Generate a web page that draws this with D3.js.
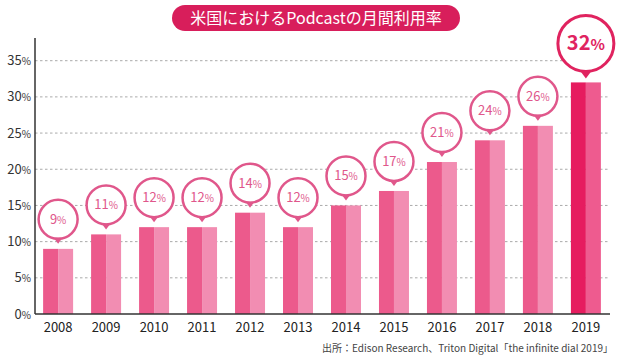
<!DOCTYPE html>
<html><head><meta charset="utf-8">
<script src="https://cdn.jsdelivr.net/npm/d3@7"></script>
<style>body{margin:0;background:#fff;}svg{display:block;}</style>
</head><body>
<svg id="c" width="620" height="359"></svg>
<script>
const years = ["2008","2009","2010","2011","2012","2013","2014","2015","2016","2017","2018","2019"];
const values = [9,11,12,12,14,12,15,17,21,24,26,32];
const yTicks = [0,5,10,15,20,25,30,35];
const titleText = "米国におけるPodcastの月間利用率";
const sourceText = "出所：Edison Research、Triton Digital「the infinite dial 2019」";

const svg = d3.select("#c");
const font = "'Noto Sans CJK JP','Noto Sans',sans-serif";
const x0 = 35, x1 = 610;
const y = d3.scaleLinear().domain([0,35]).range([314,60.7]);
const x = d3.scaleBand().domain(years).range([34,610]).paddingInner(0.375).paddingOuter(0.19);

// grid
svg.append("g").selectAll("line").data(yTicks.filter(d=>d>0)).join("line")
  .attr("x1",x0).attr("x2",x1).attr("y1",d=>y(d)).attr("y2",d=>y(d))
  .attr("stroke","#aaa").attr("stroke-width",1).attr("stroke-dasharray","2.5,2.5");

// bars
const bw = x.bandwidth();
const bars = svg.append("g").selectAll("g").data(years).join("g");
bars.append("rect").attr("x",d=>x(d)).attr("width",bw/2)
  .attr("y",(d,i)=>y(values[i])).attr("height",(d,i)=>y(0)-y(values[i]))
  .attr("fill",(d,i)=>i===years.length-1?"#e61c5f":"#ec5a8c");
bars.append("rect").attr("x",d=>x(d)+bw/2).attr("width",bw/2)
  .attr("y",(d,i)=>y(values[i])).attr("height",(d,i)=>y(0)-y(values[i]))
  .attr("fill",(d,i)=>i===years.length-1?"#ee5b8f":"#f28db2");

// axes
svg.append("line").attr("x1",x0).attr("x2",x0).attr("y1",38).attr("y2",y(0)).attr("stroke","#333").attr("stroke-width",1.5);
svg.append("line").attr("x1",x0).attr("x2",x1).attr("y1",y(0)).attr("y2",y(0)).attr("stroke","#333").attr("stroke-width",1.5);

// y tick labels
const yl = svg.append("g").selectAll("text").data(yTicks).join("text")
  .attr("x",31).attr("y",d=>y(d)+4.5).attr("text-anchor","end")
  .attr("font-family",font).attr("font-size",13).attr("fill","#333");
yl.append("tspan").text(d=>d);
yl.append("tspan").attr("font-size",10).text("%");

// x labels
svg.append("g").selectAll("text").data(years).join("text")
  .attr("x",d=>x(d)+bw/2).attr("y",332).attr("text-anchor","middle")
  .attr("font-family",font).attr("font-size",13).attr("font-weight",400).attr("fill","#222").text(d=>d);

// bubbles
const bub = svg.append("g").selectAll("g").data(years).join("g")
  .attr("transform",(d,i)=>`translate(${x(d)+bw/2},${y(values[i])})`);
bub.each(function(d,i){
  const g = d3.select(this);
  const big = i===years.length-1;
  const r = big?28:19.5, tipGap = big?4:5, ph = big?8:6, pw = big?6:4.5;
  const cy = -(tipGap+ph+r-1);
  const col = big?"#e0235f":"#e0578b";
  const sw = big?3:2.5;
  g.append("circle").attr("cx",0).attr("cy",cy).attr("r",r).attr("fill","#fff").attr("stroke",col).attr("stroke-width",sw);
  g.append("path").attr("d",`M${-pw},${cy+r-1}L${pw},${cy+r-1}L0,${-tipGap}Z`).attr("fill",col);
  const t = g.append("text").attr("x",0).attr("y",cy+(big?7:4.5)).attr("text-anchor","middle")
    .attr("font-family",font).attr("fill",col).attr("font-weight",big?700:400);
  t.append("tspan").attr("font-size",big?20:13).text(values[i]);
  t.append("tspan").attr("font-size",big?15:10).text("%");
});

// title
const tg = svg.append("g");
tg.append("rect").attr("x",172).attr("y",5).attr("width",288).attr("height",26).attr("rx",13).attr("fill","#d81e5b");
tg.append("text").attr("x",316).attr("y",24).attr("text-anchor","middle").attr("font-family",font)
  .attr("font-size",16).attr("fill","#fff").text(titleText);

// source
svg.append("text").attr("x",613).attr("y",352).attr("text-anchor","end").attr("font-family",font)
  .attr("font-size",10).attr("fill","#444").text(sourceText);
</script>
</body></html>
